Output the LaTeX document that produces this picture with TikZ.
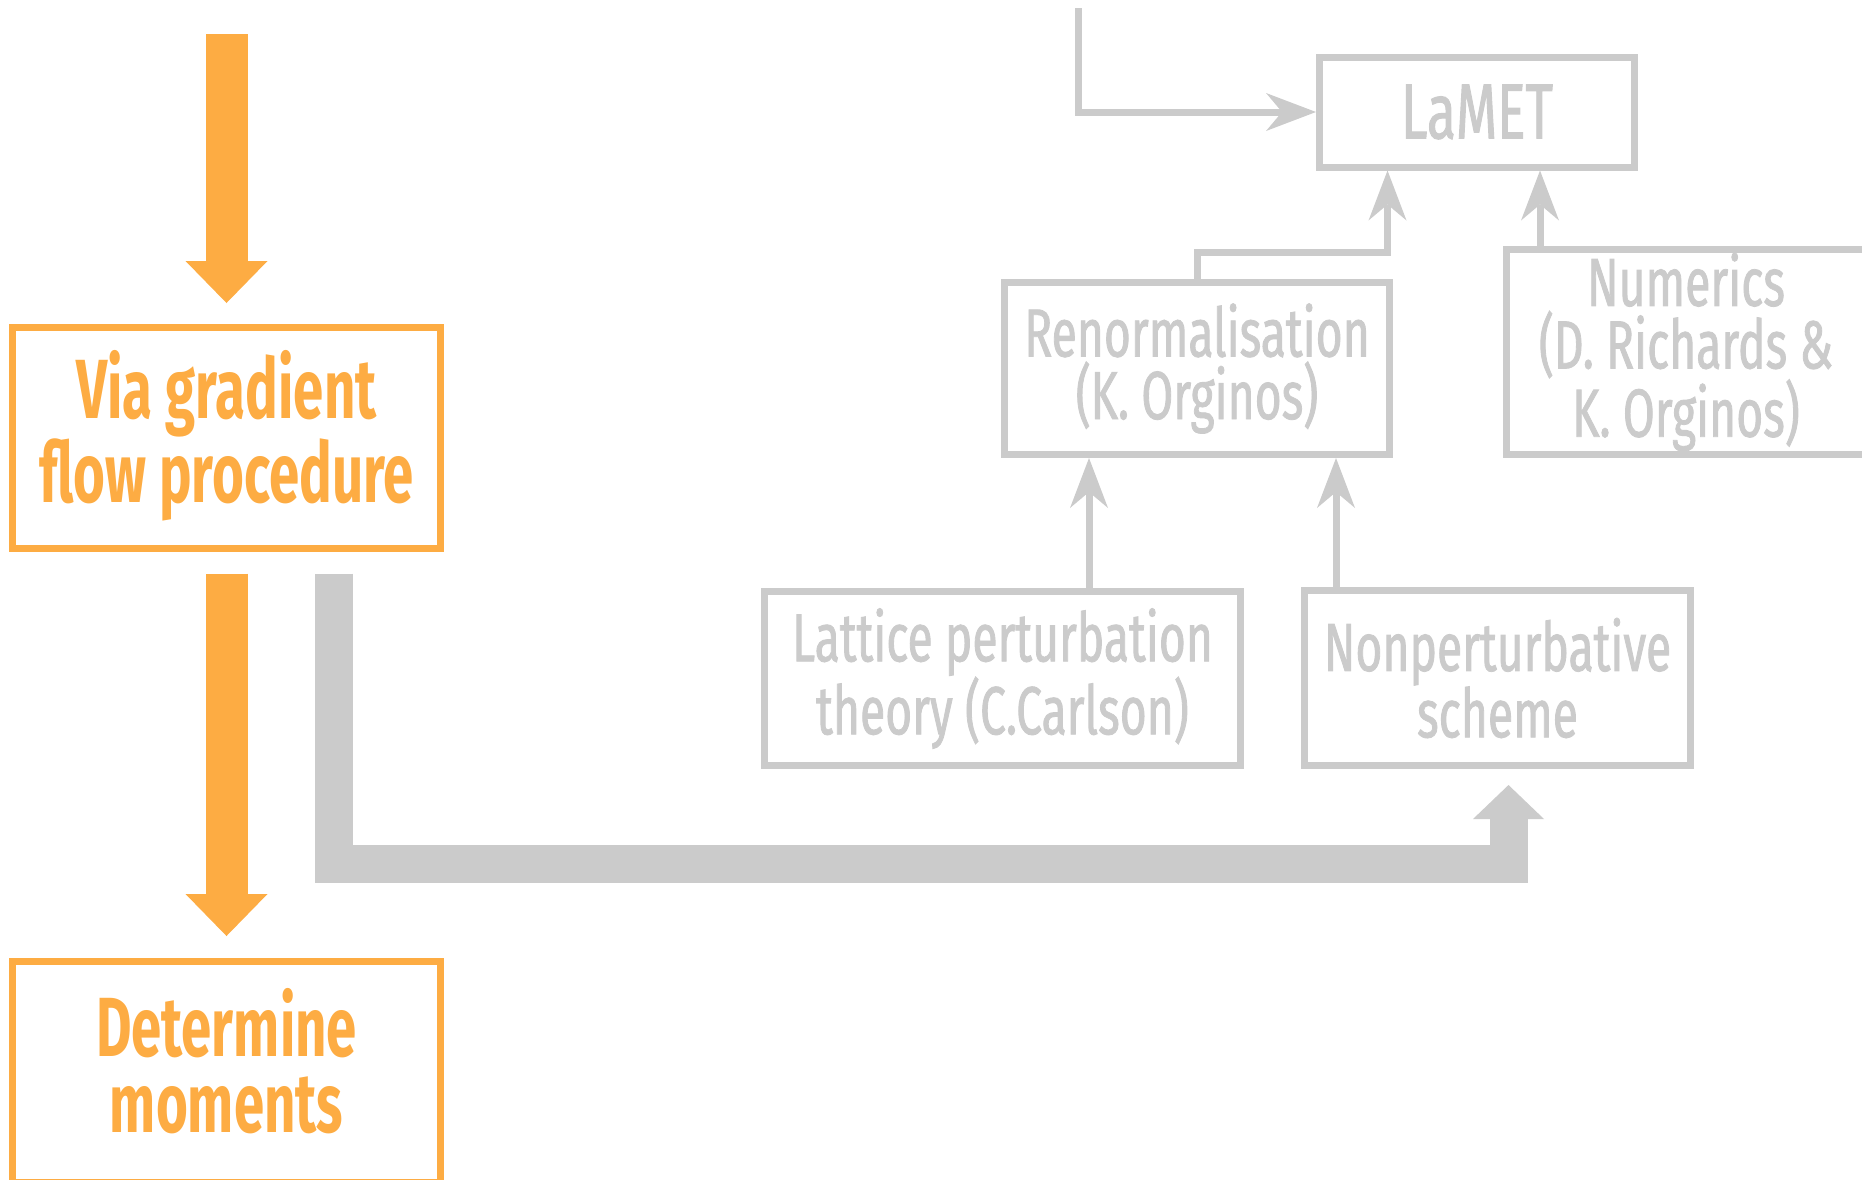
\documentclass[tikz,border=0pt]{standalone}
\usepackage{fontspec}
\usepackage{tikz}
\usetikzlibrary{arrows.meta}

% narrow sans for all labels
\newfontfamily\headfont{Fira Sans}[FakeStretch=0.65]
\newfontfamily\labelfont{Fira Sans}[FakeStretch=0.68, FakeBold=1.2]

\definecolor{lineorange}{RGB}{253,172,67}
\definecolor{linegrey}{RGB}{203,203,203}

\begin{document}
\begin{tikzpicture}[x=1pt, y=-1pt,
        obox/.style={draw=lineorange, line width=7pt, text=lineorange, align=center, inner sep=0pt,
            minimum width=428pt, minimum height=221pt,
            font=\headfont\bfseries\fontsize{84}{76}\selectfont},
        gbox/.style={draw=linegrey, line width=7pt, text=linegrey, align=center, inner sep=0pt,
            font=\labelfont\fontsize{68}{62.5}\selectfont},
        thinarrow/.style={draw=linegrey, line width=7pt, -{Stealth[length=50pt, width=38pt, inset=16pt, line width=0pt]}},
        fatorange/.style={draw=lineorange, line width=42pt, -{Triangle[length=42pt, width=82pt, line width=0pt]}},
        fatgrey/.style={draw=linegrey, line width=38pt, -{Triangle[length=34pt, width=71pt, line width=0pt]}}]
        \clip (0, 0) rectangle (1862, 1179);

        % left column
        \coordinate (start) at (226.5, 34);
        \node (via) at (226.5, 438)[obox] {Via gradient \\ flow procedure\strut};
        \node (det) at (226.5, 1072)[obox] {Determine \\ moments\strut};

        \draw[fatorange] (start) -- ([yshift=21pt]via.north);
        \draw[fatorange] ([yshift=-21.5pt]via.south) -- ([yshift=22pt]det.north);

        % right part
        \coordinate (feed) at (1078.5, 8);
        \node (lamet) at (1477, 112)[gbox, minimum width=315pt, minimum height=110pt, font=\labelfont\fontsize{78}{76}\selectfont] {LaMET};
        \node (renorm) at (1197, 368.5)[gbox, minimum width=385pt, minimum height=172pt] {Renormalisation \\ (K. Orginos)};
        \node (numerics) at (1686, 352)[gbox, minimum width=359pt, minimum height=205pt] {Numerics \\ (D. Richards \& \\ K. Orginos)};
        \node (lattice) at (1002.5, 678.5)[gbox, minimum width=476pt, minimum height=174pt] {Lattice perturbation \\ theory (C.Carlson)};
        \node (nonpert) at (1497.5, 678)[gbox, minimum width=386pt, minimum height=175pt] {Nonperturbative \\ scheme};

        \draw[thinarrow] (feed) |- (lamet.west);
        \draw[thinarrow] (renorm.north) -- ++(0, -27) -| ([xshift=-89.5pt]lamet.south);
        \draw[thinarrow] ([xshift=-146pt]numerics.north) -- ([xshift=-146pt]numerics.north |- lamet.south);
        \draw[thinarrow] ([xshift=86.5pt]lattice.north) -- ([xshift=86.5pt]lattice.north |- renorm.south);
        \draw[thinarrow] ([xshift=-161.5pt]nonpert.north) -- ([xshift=-161.5pt]nonpert.north |- renorm.south);

        \draw[fatgrey] ([xshift=107.5pt, yshift=-21.5pt]via.south) -- ++(0, 290.5) -| ([xshift=11pt, yshift=-16pt]nonpert.south);
    \end{tikzpicture}
\end{document}
